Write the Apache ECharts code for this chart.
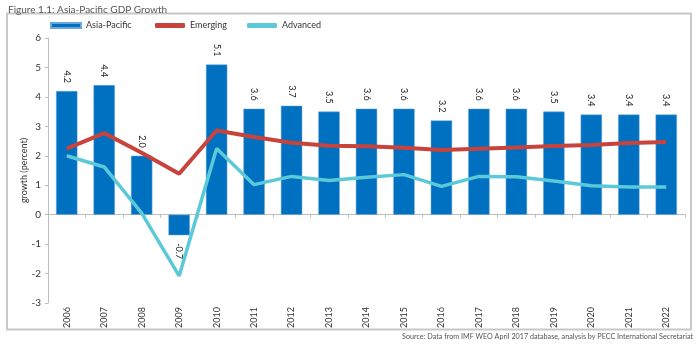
<!DOCTYPE html>
<html>
<head>
<meta charset="utf-8">
<script src="https://cdn.jsdelivr.net/npm/echarts@6/dist/echarts.min.js"></script>
<style>
  html, body { margin: 0; padding: 0; background: #fff; }
  #chart { width: 700px; height: 345px; }
</style>
</head>
<body>
<div id="chart"></div>
<script>
// Asia-Pacific GDP growth, 2006-2022 (percent)
const years = ['2006','2007','2008','2009','2010','2011','2012','2013','2014',
               '2015','2016','2017','2018','2019','2020','2021','2022'];
const asiaPacific = [4.2, 4.4, 2.0, -0.7, 5.1, 3.6, 3.7, 3.5, 3.6, 3.6, 3.2, 3.6, 3.6, 3.5, 3.4, 3.4, 3.4];
const emerging    = [2.24, 2.77, 2.1, 1.39, 2.86, 2.64, 2.44, 2.34, 2.32, 2.27, 2.2, 2.24, 2.28, 2.33, 2.37, 2.43, 2.47];
const advanced    = [2.0, 1.62, 0.05, -2.08, 2.25, 1.02, 1.3, 1.16, 1.27, 1.36, 0.96, 1.3, 1.29, 1.14, 0.98, 0.94, 0.94];
const yTicks = { min: -3, max: 6, step: 1 };

const FONT = "Lato, 'Open Sans', sans-serif";
const BLUE = '#0070c0', RED = '#c8433c', CYAN = '#5cc9d9', AXIS = '#bdbdbd', TXT = '#333';

const chart = echarts.init(document.getElementById('chart'), null, { renderer: 'canvas' });

// the negative bar carries its label below the bar end
const barData = asiaPacific.map(v => v < 0
  ? { value: v, label: { position: 'bottom', align: 'left' } }
  : v);

const legendBase = {
  top: 21, padding: 0, itemWidth: 30, itemHeight: 5, itemGap: 0,
  textStyle: { fontFamily: FONT, fontSize: 9, color: TXT },
  selectedMode: false
};

chart.setOption({
  animation: false,
  textStyle: { fontFamily: FONT },
  title: {
    text: 'Figure 1.1: Asia-Pacific GDP Growth',
    left: 3, top: 0,
    textStyle: { fontFamily: FONT, fontSize: 10, fontWeight: 'normal', color: '#555' }
  },
  graphic: [
    { type: 'rect', shape: { x: 7, y: 13.5, width: 684, height: 316 },
      style: { fill: 'none', stroke: '#c8c8c8', lineWidth: 2 }, silent: true },
    { type: 'text', x: 693, y: 337,
      style: { text: 'Source: Data from IMF WEO April 2017 database, analysis by PECC International Secretariat',
               align: 'right', verticalAlign: 'middle', fontFamily: FONT, fontSize: 7.2, fill: '#555' } }
  ],
  legend: [
    Object.assign({}, legendBase, { left: 50, data: [{ name: 'Asia-Pacific', icon: 'rect' }] }),
    Object.assign({}, legendBase, { left: 155, data: [{ name: 'Emerging', icon: 'roundRect' }] }),
    Object.assign({}, legendBase, { left: 247, data: [{ name: 'Advanced', icon: 'roundRect' }] })
  ],
  grid: { left: 48, right: 15, top: 38, bottom: 42, containLabel: false },
  xAxis: [
    {
      type: 'category', data: years, position: 'bottom',
      axisLine: { show: false, onZero: false },
      axisTick: { show: false },
      axisLabel: { rotate: 90, margin: 4, fontSize: 9, color: TXT, fontFamily: FONT }
    },
    {
      type: 'category', data: years, position: 'bottom',
      axisLine: { show: true, onZero: true, lineStyle: { color: AXIS, width: 1 } },
      axisTick: { show: true, length: 3, lineStyle: { color: AXIS } },
      axisLabel: { show: false }
    }
  ],
  yAxis: {
    type: 'value', min: yTicks.min, max: yTicks.max, interval: yTicks.step,
    name: 'growth (percent)', nameLocation: 'middle', nameGap: 19, nameMoveOverlap: false,
    nameTextStyle: { fontFamily: FONT, fontSize: 9, color: TXT },
    axisLine: { show: true, lineStyle: { color: AXIS, width: 1 } },
    axisTick: { show: true, length: 3, lineStyle: { color: AXIS } },
    axisLabel: { margin: 7, fontSize: 10, color: TXT, fontFamily: FONT },
    splitLine: { show: false }
  },
  series: [
    {
      name: 'Asia-Pacific', type: 'bar', xAxisIndex: 0, data: barData,
      barWidth: '57%',
      itemStyle: { color: BLUE, borderColor: '#6aa8dc', borderWidth: 0.5 },
      label: {
        show: true, position: 'top', rotate: -90, distance: 8,
        align: 'right', verticalAlign: 'middle',
        fontFamily: FONT, fontSize: 9, color: '#222',
        formatter: p => p.value.toFixed(1)
      },
      z: 2
    },
    {
      name: 'Emerging', type: 'line', xAxisIndex: 0, data: emerging,
      symbol: 'none', lineStyle: { color: RED, width: 4 }, itemStyle: { color: RED }, z: 4
    },
    {
      name: 'Advanced', type: 'line', xAxisIndex: 0, data: advanced,
      symbol: 'none', lineStyle: { color: CYAN, width: 3.5 }, itemStyle: { color: CYAN }, z: 3
    }
  ]
});
</script>
</body>
</html>
